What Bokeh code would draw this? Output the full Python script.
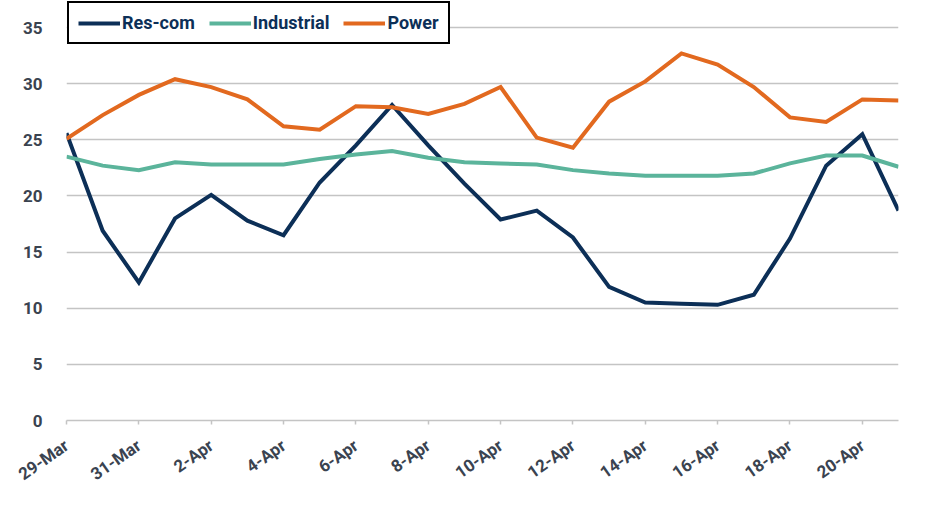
from bokeh.plotting import figure
from bokeh.models import ColumnDataSource, FixedTicker, Legend, LegendItem, Range1d
from bokeh.embed import file_html
from bokeh.resources import INLINE
import math

dates = ["29-Mar", "30-Mar", "31-Mar", "1-Apr", "2-Apr", "3-Apr", "4-Apr", "5-Apr",
         "6-Apr", "7-Apr", "8-Apr", "9-Apr", "10-Apr", "11-Apr", "12-Apr", "13-Apr",
         "14-Apr", "15-Apr", "16-Apr", "17-Apr", "18-Apr", "19-Apr", "20-Apr", "21-Apr"]
res_com = [25.6, 16.9, 12.3, 18.0, 20.1, 17.8, 16.5, 21.2, 24.5, 28.1, 24.5, 21.1,
           17.9, 18.7, 16.3, 11.9, 10.5, 10.4, 10.3, 11.2, 16.2, 22.7, 25.5, 18.7]
industrial = [23.5, 22.7, 22.3, 23.0, 22.8, 22.8, 22.8, 23.3, 23.7, 24.0, 23.4, 23.0,
              22.9, 22.8, 22.3, 22.0, 21.8, 21.8, 21.8, 22.0, 22.9, 23.6, 23.6, 22.6]
power = [25.1, 27.2, 29.0, 30.4, 29.7, 28.6, 26.2, 25.9, 28.0, 27.9, 27.3, 28.2,
         29.7, 25.2, 24.3, 28.4, 30.2, 32.7, 31.7, 29.7, 27.0, 26.6, 28.6, 28.5]
y_ticks = [0, 5, 10, 15, 20, 25, 30, 35]

series = [("Res-com", "res_com", "#0c2f57"),
          ("Industrial", "industrial", "#5bb49b"),
          ("Power", "power", "#e2691f")]

x = list(range(len(dates)))
src = ColumnDataSource(dict(x=x, res_com=res_com, industrial=industrial, power=power))

p = figure(width=912, height=497, output_backend="svg", toolbar_location=None,
           x_range=Range1d(0, len(dates) - 1), y_range=Range1d(0, 37.41),
           min_border_left=66, min_border_right=14, min_border_top=0, min_border_bottom=77)
p.outline_line_color = None
p.background_fill_color = "white"
p.border_fill_color = "white"

renderers = []
for name, key, color in series:
    r = p.line("x", key, source=src, line_color=color, line_width=4, line_join="miter")
    renderers.append((name, r))

p.xgrid.grid_line_color = None
p.ygrid.grid_line_color = "#c4c4c4"
p.ygrid.grid_line_width = 1.5

p.yaxis.ticker = FixedTicker(ticks=y_ticks)
p.yaxis.axis_line_color = None
p.yaxis.major_tick_line_color = None
p.yaxis.minor_tick_line_color = None
p.yaxis.major_label_text_font = "Roboto"
p.yaxis.major_label_text_font_style = "bold"
p.yaxis.major_label_text_font_size = "17px"
p.yaxis.major_label_text_color = "#3a4350"
p.yaxis.major_label_standoff = 18

p.xaxis.ticker = FixedTicker(ticks=x[::2])
p.xaxis.major_label_overrides = {i: dates[i] for i in x}
p.xaxis.axis_line_color = "#c4c4c4"
p.xaxis.axis_line_width = 1.5
p.xaxis.major_tick_line_color = "#c4c4c4"
p.xaxis.major_tick_line_width = 1.5
p.xaxis.major_tick_out = 4
p.xaxis.major_tick_in = 0
p.xaxis.minor_tick_line_color = None
p.xaxis.major_label_orientation = math.radians(35)
p.xaxis.major_label_text_font = "Roboto"
p.xaxis.major_label_text_font_style = "bold"
p.xaxis.major_label_text_font_size = "17px"
p.xaxis.major_label_text_color = "#3a4350"
p.xaxis.major_label_standoff = 19

legend = Legend(items=[LegendItem(label=n, renderers=[r]) for n, r in renderers],
                orientation="horizontal", location=(1, 376))
legend.border_line_color = "black"
legend.border_line_alpha = 1
legend.border_line_width = 2
legend.background_fill_color = "white"
legend.background_fill_alpha = 1
legend.label_text_font = "Roboto"
legend.label_text_font_style = "bold"
legend.label_text_font_size = "18px"
legend.label_text_color = "#0c2f57"
legend.glyph_width = 42
legend.glyph_height = 18
legend.label_standoff = 2
legend.spacing = 14
legend.padding = 9
legend.margin = 0
p.add_layout(legend, "center")

open("out.html", "w").write(file_html(p, INLINE))
